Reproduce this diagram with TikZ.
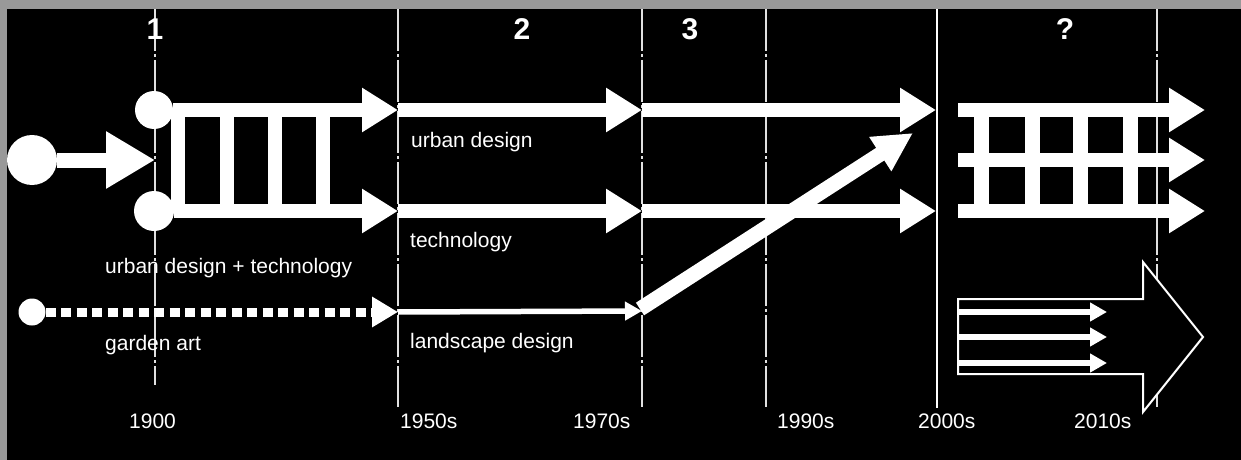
\documentclass[tikz,border=0pt]{standalone}
\usepackage{fontspec}
\setmainfont{Liberation Sans}
\usetikzlibrary{arrows.meta}
\definecolor{framegray}{RGB}{153,153,153}
\definecolor{linegray}{RGB}{225,225,225}
\begin{document}
\begin{tikzpicture}[x=1pt,y=-1pt,
  era/.style={linegray, line width=1.6pt, dash pattern=on 42pt off 3pt on 3pt off 3pt},
  erasolid/.style={white, line width=2.6pt},
  fatarrow/.style={white, line width=14pt, -{Triangle[length=36pt,width=42pt]}},
  diagarrow/.style={white, line width=15pt, -{Triangle[length=39pt,width=38pt]}},
  thinarrow/.style={white, line width=5.5pt, -{Triangle[length=17pt,width=18pt]}},
  dashedarrow/.style={white, line width=9pt, dash pattern=on 10pt off 5.5pt, -{Triangle[length=26pt,width=29pt]}},
  rung/.style={white, line width=13.5pt},
  blob/.style={circle, fill=white, draw=none, inner sep=0pt, minimum size=#1},
  lbl/.style={text=white, font=\fontsize{21}{24}\selectfont, anchor=base west, inner sep=0pt},
  num/.style={text=white, font=\fontsize{30}{34}\selectfont\bfseries, anchor=base, inner sep=0pt},
]
% frame and background
\useasboundingbox (0,0) rectangle (1241,460);
\fill[framegray] (0,0) rectangle (1241,460);
\fill[black] (7,9) rectangle (1241,460);

% era lines
\coordinate (l1t) at (155,9);   \coordinate (l1b) at (155,385);
\coordinate (l2t) at (398,9);   \coordinate (l2b) at (398,407);
\coordinate (l3t) at (642,9);   \coordinate (l3b) at (642,407);
\coordinate (l4t) at (766,9);   \coordinate (l4b) at (766,407);
\coordinate (l5t) at (937,9);   \coordinate (l5b) at (937,408);
\coordinate (l6t) at (1157,9);  \coordinate (l6b) at (1157,407);
\draw[era] (l1t) -- (l1b);
\draw[era] (l2t) -- (l2b);
\draw[era] (l3t) -- (l3b);
\draw[era] (l4t) -- (l4b);
\draw[erasolid] (l5t) -- (l5b);
\draw[era] (l6t) -- (l6b);

% start circles
\node[blob=50pt] (c0) at (32,160) {};
\node[blob=38pt] (c1) at (154,110) {};
\node[blob=40pt] (c2) at (154,211) {};
\node[blob=27pt] (c3) at (32,312) {};

% coordinates of arrow ends
\coordinate (a0) at (155,160);
\coordinate (t1) at (398,110); \coordinate (t2) at (642,110); \coordinate (t3) at (936,110);
\coordinate (b1) at (398,211); \coordinate (b2) at (642,211); \coordinate (b3) at (936,211);
\coordinate (g1) at (398,312); \coordinate (g2) at (642,311);
\coordinate (d2) at (913,133);

% entry arrow
\draw[white, line width=15pt, -{Triangle[length=49pt,width=54pt]}] (c0) -- (a0);

% ladder 1
\draw[rung] (178,110) -- (178,211);
\draw[rung] (227,110) -- (227,211);
\draw[rung] (275,110) -- (275,211);
\draw[rung] (323,110) -- (323,211);

% urban design row
\draw[fatarrow] (c1) -- (t1);
\draw[fatarrow] (t1) -- (t2);
\draw[fatarrow] (t2) -- (t3);
% technology row
\draw[fatarrow] (c2) -- (b1);
\draw[fatarrow] (b1) -- (b2);
\draw[fatarrow] (b2) -- (b3);

% garden art / landscape design
\draw[dashedarrow] (c3) -- (g1);
\draw[thinarrow] (g1) -- (g2);
\draw[diagarrow] ([xshift=-2pt,yshift=2pt]g2) -- (d2);

% right ladder
\coordinate (r1s) at (958,110); \coordinate (r1e) at (1205,110);
\coordinate (r2s) at (958,160); \coordinate (r2e) at (1205,160);
\coordinate (r3s) at (958,211); \coordinate (r3e) at (1205,211);
\draw[rung, line width=15pt] (981,110) -- (981,211);
\draw[rung, line width=15pt] (1032,110) -- (1032,211);
\draw[rung, line width=15pt] (1080,110) -- (1080,211);
\draw[rung, line width=15pt] (1130,110) -- (1130,211);
\draw[fatarrow] (r1s) -- (r1e);
\draw[fatarrow] (r2s) -- (r2e);
\draw[fatarrow] (r3s) -- (r3e);

% big outline arrow
\draw[white, fill=black, line width=2pt, line join=miter]
  (958,299) -- (1143,299) -- (1143,262) -- (1203,337) -- (1143,412) -- (1143,374) -- (958,374) -- cycle;
\coordinate (i1s) at (958,312); \coordinate (i1e) at (1107,312);
\coordinate (i2s) at (958,337); \coordinate (i2e) at (1107,337);
\coordinate (i3s) at (958,363); \coordinate (i3e) at (1107,363);
\draw[thinarrow] (i1s) -- (i1e);
\draw[thinarrow] (i2s) -- (i2e);
\draw[thinarrow] (i3s) -- (i3e);

% labels
\node[lbl] (lud) at (411,147) {urban design};
\node[lbl] (ltech) at (410,247) {technology};
\node[lbl] (ludt) at (105,273) {urban design + technology};
\node[lbl] (lland) at (410,348) {landscape design};
\node[lbl] (lgard) at (105,350) {garden art};

% years
\node[lbl] (y1900) at (129,428) {1900};
\node[lbl] (y1950) at (400,428) {1950s};
\node[lbl] (y1970) at (573,428) {1970s};
\node[lbl] (y1990) at (777,428) {1990s};
\node[lbl] (y2000) at (918,428) {2000s};
\node[lbl] (y2010) at (1074,428) {2010s};

% phase numbers
\node[num] (n1) at (155,40) {1};
\node[num] (n2) at (522,40) {2};
\node[num] (n3) at (690,40) {3};
\node[num] (n4) at (1065,40) {?};
\end{tikzpicture}
\end{document}
